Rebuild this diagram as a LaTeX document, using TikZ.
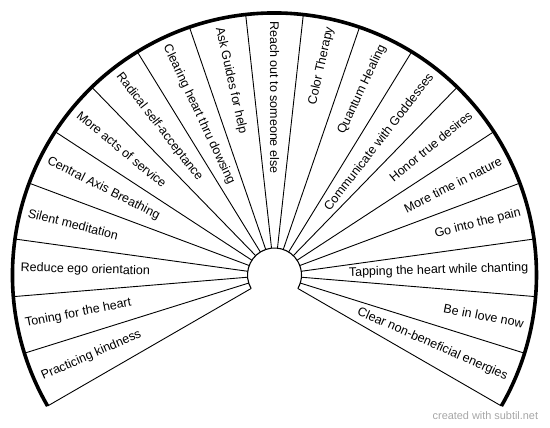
\documentclass[tikz,border=0pt]{standalone}
\usepackage{fontspec}
\setmainfont{Liberation Sans}
\begin{document}
\begin{tikzpicture}[x=1pt,y=1pt,
                        spoke/.style={line width=0.9pt},
                        rim/.style={line width=3.6pt},
                        hub/.style={line width=1.1pt},
                        lbl/.style={inner sep=0pt,font=\fontsize{12.5}{14}\selectfont},
                        credittext/.style={inner sep=0pt,text=black!35,font=\fontsize{10.9}{12}\selectfont}]
                        \useasboundingbox (-274.5,-153) rectangle (275.5,275);

                        % rim and hub
                        \draw[rim] (210:262) arc[start angle=210,end angle=-30,radius=262];
                        \draw[hub] (210:27) arc[start angle=210,end angle=-30,radius=27];

                        % spokes
                        \draw[spoke] (-30:27)--(-30:262);
                        \draw[spoke] (-17.3684:27)--(-17.3684:262);
                        \draw[spoke] (-4.7368:27)--(-4.7368:262);
                        \draw[spoke] (7.8947:27)--(7.8947:262);
                        \draw[spoke] (20.5263:27)--(20.5263:262);
                        \draw[spoke] (33.1579:27)--(33.1579:262);
                        \draw[spoke] (45.7895:27)--(45.7895:262);
                        \draw[spoke] (58.4211:27)--(58.4211:262);
                        \draw[spoke] (71.0526:27)--(71.0526:262);
                        \draw[spoke] (83.6842:27)--(83.6842:262);
                        \draw[spoke] (96.3158:27)--(96.3158:262);
                        \draw[spoke] (108.9474:27)--(108.9474:262);
                        \draw[spoke] (121.5789:27)--(121.5789:262);
                        \draw[spoke] (134.2105:27)--(134.2105:262);
                        \draw[spoke] (146.8421:27)--(146.8421:262);
                        \draw[spoke] (159.4737:27)--(159.4737:262);
                        \draw[spoke] (172.1053:27)--(172.1053:262);
                        \draw[spoke] (184.7368:27)--(184.7368:262);
                        \draw[spoke] (197.3684:27)--(197.3684:262);
                        \draw[spoke] (210:27)--(210:262);

                        % right half, read outwards
                        \node[lbl,anchor=east,rotate=-23.6842] (clear) at(-23.6842:254) {Clear non-beneficial energies};
                        \node[lbl,anchor=east,rotate=-11.0526] (love) at(-11.0526:254) {Be in love now};
                        \node[lbl,anchor=east,rotate=1.5789] (tapping) at(1.5789:254) {Tapping the heart while chanting};
                        \node[lbl,anchor=east,rotate=14.2105] (pain) at(14.2105:254) {Go into the pain};
                        \node[lbl,anchor=east,rotate=26.8421] (nature) at(26.8421:254) {More time in nature};
                        \node[lbl,anchor=east,rotate=39.4737] (desires) at(39.4737:254) {Honor true desires};
                        \node[lbl,anchor=east,rotate=52.1053] (goddesses) at(52.1053:254) {Communicate with Goddesses};
                        \node[lbl,anchor=east,rotate=64.7368] (quantum) at(64.7368:254) {Quantum Healing};
                        \node[lbl,anchor=east,rotate=77.3684] (color) at(77.3684:254) {Color Therapy};

                        % left half, read inwards
                        \node[lbl,anchor=west,rotate=-90] (reach) at(90:254) {Reach out to someone else};
                        \node[lbl,anchor=west,rotate=-77.3684] (guides) at(102.6316:254) {Ask Guides for help};
                        \node[lbl,anchor=west,rotate=-64.7368] (dowsing) at(115.2632:254) {Clearing heart thru dowsing};
                        \node[lbl,anchor=west,rotate=-52.1053] (radical) at(127.8947:254) {Radical self-acceptance};
                        \node[lbl,anchor=west,rotate=-39.4737] (service) at(140.5263:254) {More acts of service};
                        \node[lbl,anchor=west,rotate=-26.8421] (axis) at(153.1579:254) {Central Axis Breathing};
                        \node[lbl,anchor=west,rotate=-14.2105] (silent) at(165.7895:254) {Silent meditation};
                        \node[lbl,anchor=west,rotate=-1.5789] (ego) at(178.4211:254) {Reduce ego orientation};
                        \node[lbl,anchor=west,rotate=11.0526] (toning) at(191.0526:254) {Toning for the heart};
                        \node[lbl,anchor=west,rotate=23.6842] (kindness) at(203.6842:254) {Practicing kindness};

                        \node[credittext,anchor=east] (credit) at(263.8,-140.7) {created with subtil.net};
                    \end{tikzpicture}
\end{document}
